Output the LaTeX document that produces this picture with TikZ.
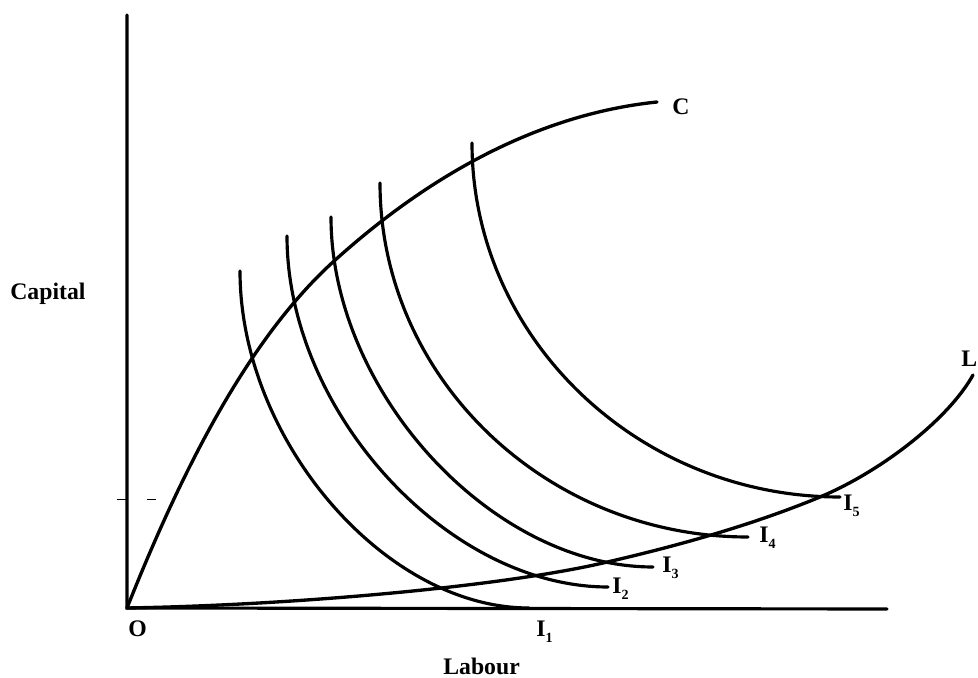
\documentclass[tikz,border=0pt]{standalone}
\usepackage{fontspec}
\setmainfont{Liberation Serif}
\usetikzlibrary{positioning}
\newcommand{\isolabel}[1]{I\raisebox{-0.55ex}{\fontsize{8}{9}\selectfont #1}}
\tikzset{
  axis line/.style={line width=1.8pt, line cap=round},
  path line/.style={line width=1.9pt, line cap=round},
  iso line/.style={line width=1.8pt, line cap=round},
  chart label/.style={inner sep=0pt, anchor=base west,
    font=\fontsize{13.5}{16}\selectfont\bfseries}
}
\begin{document}
\begin{tikzpicture}[x=0.02cm, y=-0.02cm]
    \useasboundingbox (0,0) rectangle (978,678);
    % axes
    \coordinate (O) at (127,608);
    \coordinate (ytop) at (127,15);
    \coordinate (xend) at (887,609);
    \draw[axis line] (ytop) -- (O) -- (xend);
    \draw[line width=0.4pt, dash pattern=on 5pt off 12pt] (117,499) -- (167,499);
    % expansion paths
    \coordinate (cmid) at (333,262);
    \coordinate (cend) at (657,102);
    \draw[path line] (O) .. controls (187,457) and (253,335) .. (cmid)
      .. controls (440,165) and (550,113) .. (cend);
    \coordinate (lmid) at (603,563);
    \coordinate (lknee) at (820,497);
    \coordinate (lend) at (973,375);
    \draw[path line] (O) .. controls (300,605) and (503,586) .. (lmid)
      .. controls (673,547) and (750,526) .. (lknee)
      .. controls (880,472) and (948,420) .. (lend);
    % isoquants
    \draw[iso line] (240,271) .. controls (240,439.5) and (384.5,608) .. (529,608);
    \draw[iso line] (287,236) .. controls (287,411.5) and (447.5,587) .. (608,587);
    \draw[iso line] (331,217) .. controls (331,392) and (492,567) .. (653,567);
    \draw[iso line] (380,183) .. controls (380,377.7) and (545.6,537) .. (748,537);
    \draw[iso line] (472,143) .. controls (472,337.7) and (637.6,497) .. (840,497);
    % labels
    \node[chart label] (capital) at (10,300) {Capital};
    \node[chart label] (labour) at (443,675) {Labour};
    \node[chart label] (origin) at (128,637) {O};
    \node[chart label] (cpath) at (672,115) {C};
    \node[chart label] (lpath) at (961,367) {L};
    \node[chart label] (iso1) at (536,637) {\isolabel{1}};
    \node[chart label] (iso2) at (612,594) {\isolabel{2}};
    \node[chart label] (iso3) at (662,573) {\isolabel{3}};
    \node[chart label] (iso4) at (759,543) {\isolabel{4}};
    \node[chart label] (iso5) at (843,511) {\isolabel{5}};
  \end{tikzpicture}
\end{document}
